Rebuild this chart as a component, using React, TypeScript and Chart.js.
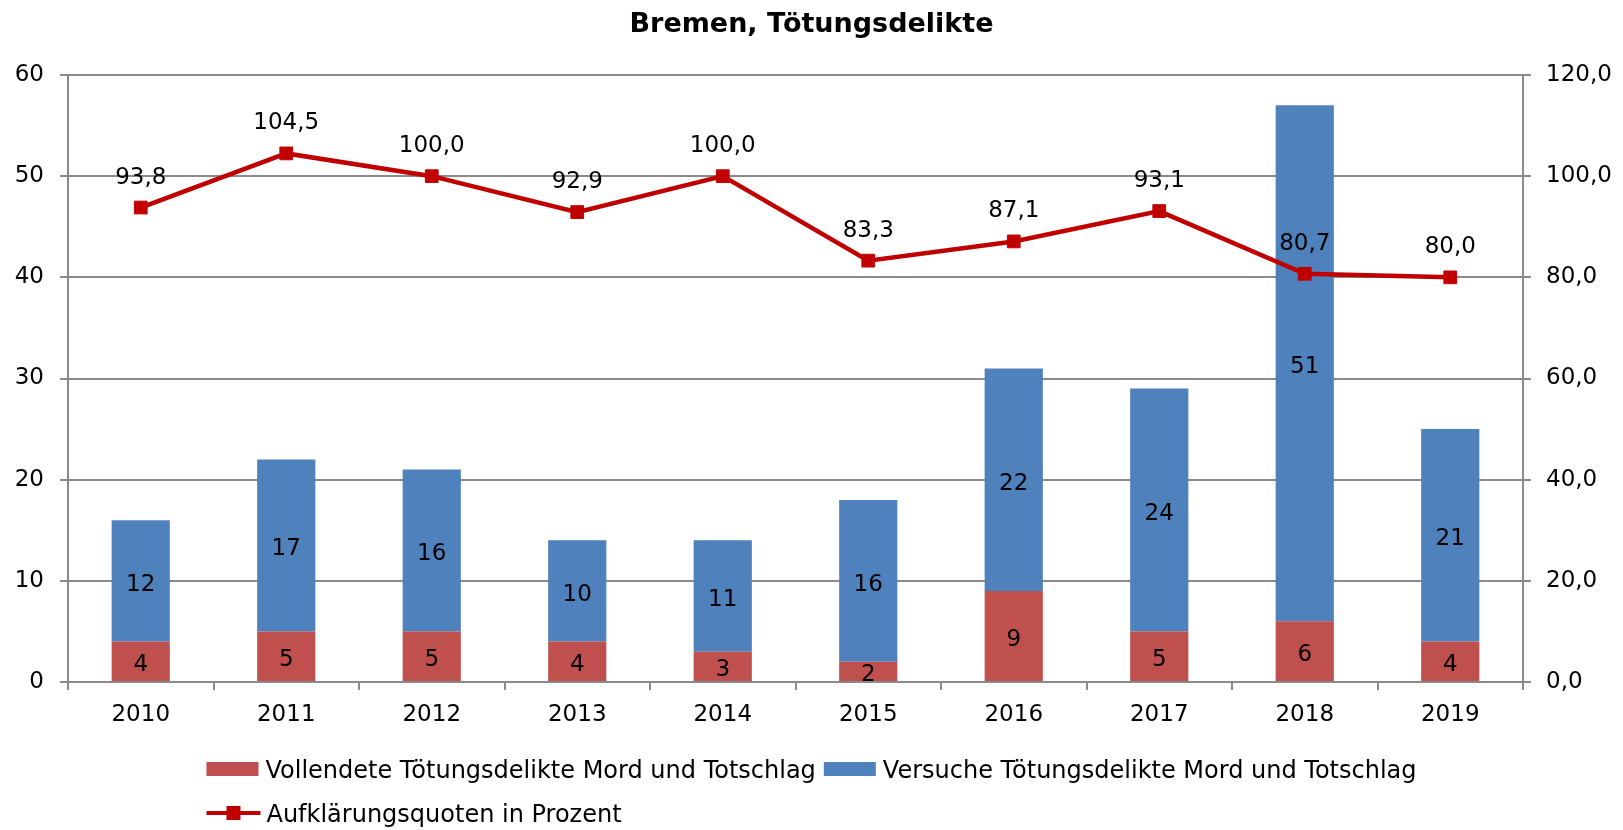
import React, { useEffect, useRef } from "react";
import { Chart, registerables } from "chart.js";

Chart.register(...registerables);

const years = ["2010", "2011", "2012", "2013", "2014", "2015", "2016", "2017", "2018", "2019"];
const vollendete = [4, 5, 5, 4, 3, 2, 9, 5, 6, 4];
const versuche = [12, 17, 16, 10, 11, 16, 22, 24, 51, 21];
const quoten = [93.8, 104.5, 100.0, 92.9, 100.0, 83.3, 87.1, 93.1, 80.7, 80.0];

const labelVollendete = "Vollendete Tötungsdelikte Mord und Totschlag";
const labelVersuche = "Versuche Tötungsdelikte Mord und Totschlag";
const labelQuoten = "Aufklärungsquoten in Prozent";
const titleText = "Bremen, Tötungsdelikte";

const FONT = '"DejaVu Sans", "Liberation Sans", Arial, sans-serif';
const FS = 23;
const LFS = 24;
const RED = "#C0504D";
const BLUE = "#4F81BD";
const LINE = "#C00000";
const GRID = "#8a8a8a";

const fmt = (v: number) => v.toFixed(1).replace(".", ",");

const dataLabelPlugin = {
  id: "dataLabels",
  afterDatasetsDraw(chart: any) {
    const ctx = chart.ctx;
    ctx.save();
    ctx.font = `${FS}px ${FONT}`;
    ctx.fillStyle = "#000";
    ctx.textAlign = "center";
    ctx.textBaseline = "alphabetic";
    chart.data.datasets.forEach((ds: any, i: number) => {
      const meta = chart.getDatasetMeta(i);
      meta.data.forEach((el: any, j: number) => {
        const v = ds.data[j];
        const p = el.getProps(["x", "y", "base"], true);
        if (ds.type === "bar") {
          ctx.fillText(String(v), p.x, (p.y + p.base) / 2 + 10);
        } else {
          ctx.fillText(fmt(v), p.x, p.y - 24);
        }
      });
    });
    ctx.restore();
  },
};

const legendPlugin = {
  id: "customLegend",
  afterDraw(chart: any) {
    const ctx = chart.ctx;
    ctx.save();
    ctx.font = `${LFS}px ${FONT}`;
    ctx.textAlign = "left";
    ctx.textBaseline = "alphabetic";
    const ds = chart.data.datasets;
    const bars = ds.filter((d: any) => d.type === "bar");
    const lines = ds.filter((d: any) => d.type === "line");
    const symW = 52;
    const gapT = 7;
    const gapI = 8;
    let w = 0;
    bars.forEach((d: any, i: number) => {
      w += symW + gapT + ctx.measureText(d.label).width + (i > 0 ? gapI : 0);
    });
    const x0 = chart.width / 2 - w / 2;
    const row1 = chart.height - 61;
    const row2 = chart.height - 17;
    let x = x0;
    bars.forEach((d: any) => {
      ctx.fillStyle = d.backgroundColor;
      ctx.fillRect(x, row1 - 7, symW, 14);
      ctx.fillStyle = "#000";
      ctx.fillText(d.label, x + symW + gapT, row1 + 8.5);
      x += symW + gapT + ctx.measureText(d.label).width + gapI;
    });
    x = x0;
    lines.forEach((d: any) => {
      ctx.strokeStyle = d.borderColor;
      ctx.lineWidth = 4;
      ctx.beginPath();
      ctx.moveTo(x, row2);
      ctx.lineTo(x + 54, row2);
      ctx.stroke();
      ctx.fillStyle = d.borderColor;
      ctx.fillRect(x + 27 - 7, row2 - 7, 14, 14);
      ctx.fillStyle = "#000";
      ctx.fillText(d.label, x + 54 + 6, row2 + 8.5);
    });
    ctx.restore();
  },
};

export default function App() {
  const ref = useRef<HTMLCanvasElement | null>(null);
  useEffect(() => {
    if (!ref.current) return;
    const chart = new Chart(ref.current, {
      type: "bar",
      data: {
        labels: years,
        datasets: [
          {
            type: "bar",
            label: labelVollendete,
            data: vollendete,
            backgroundColor: RED,
            yAxisID: "y",
            stack: "s",
            order: 2,
            categoryPercentage: 1,
            barPercentage: 0.4,
          } as any,
          {
            type: "bar",
            label: labelVersuche,
            data: versuche,
            backgroundColor: BLUE,
            yAxisID: "y",
            stack: "s",
            order: 2,
            categoryPercentage: 1,
            barPercentage: 0.4,
          } as any,
          {
            type: "line",
            label: labelQuoten,
            data: quoten,
            borderColor: LINE,
            backgroundColor: LINE,
            borderWidth: 4.5,
            pointStyle: "rect",
            pointRadius: 9,
            pointBorderWidth: 1,
            pointBackgroundColor: LINE,
            pointBorderColor: LINE,
            yAxisID: "y1",
            order: 1,
            tension: 0,
          } as any,
        ],
      },
      options: {
        responsive: true,
        maintainAspectRatio: false,
        animation: false,
        layout: { padding: { left: 0, right: 0, top: 0, bottom: 88 } },
        plugins: {
          legend: { display: false },
          tooltip: { enabled: false },
          title: {
            display: true,
            text: titleText,
            color: "#000",
            font: { family: FONT, size: 27, weight: "bold" },
            padding: { top: 9, bottom: 33.6 },
          },
        },
        scales: {
          x: {
            stacked: true,
            offset: true,
            grid: {
              display: true,
              offset: true,
              drawOnChartArea: false,
              drawTicks: true,
              tickLength: 8,
              color: GRID,
              lineWidth: 2,
            },
            border: { display: true, color: GRID, width: 2 },
            ticks: { color: "#000", font: { family: FONT, size: FS }, padding: 11, maxRotation: 0 },
            afterFit: (s: any) => {
              s.height = 60;
            },
          },
          y: {
            stacked: true,
            position: "left",
            min: 0,
            max: 60,
            ticks: { stepSize: 10, color: "#000", font: { family: FONT, size: FS }, padding: 16 },
            grid: { color: GRID, lineWidth: 2, tickLength: 8, drawTicks: true },
            border: { display: true, color: GRID, width: 2 },
            afterFit: (s: any) => {
              s.width = 68;
            },
          },
          y1: {
            position: "right",
            min: 0,
            max: 120,
            ticks: {
              stepSize: 20,
              color: "#000",
              font: { family: FONT, size: FS },
              padding: 15,
              callback: (v: any) => fmt(Number(v)),
            },
            grid: { drawOnChartArea: false, color: GRID, lineWidth: 2, tickLength: 8, drawTicks: true },
            border: { display: true, color: GRID, width: 2 },
            afterFit: (s: any) => {
              s.width = 100;
            },
          },
        },
      },
      plugins: [dataLabelPlugin, legendPlugin],
    });
    return () => chart.destroy();
  }, []);
  return (
    <div style={{ position: "absolute", left: 0, top: 0, width: 1623, height: 830, background: "#fff" }}>
      <canvas ref={ref} />
    </div>
  );
}
